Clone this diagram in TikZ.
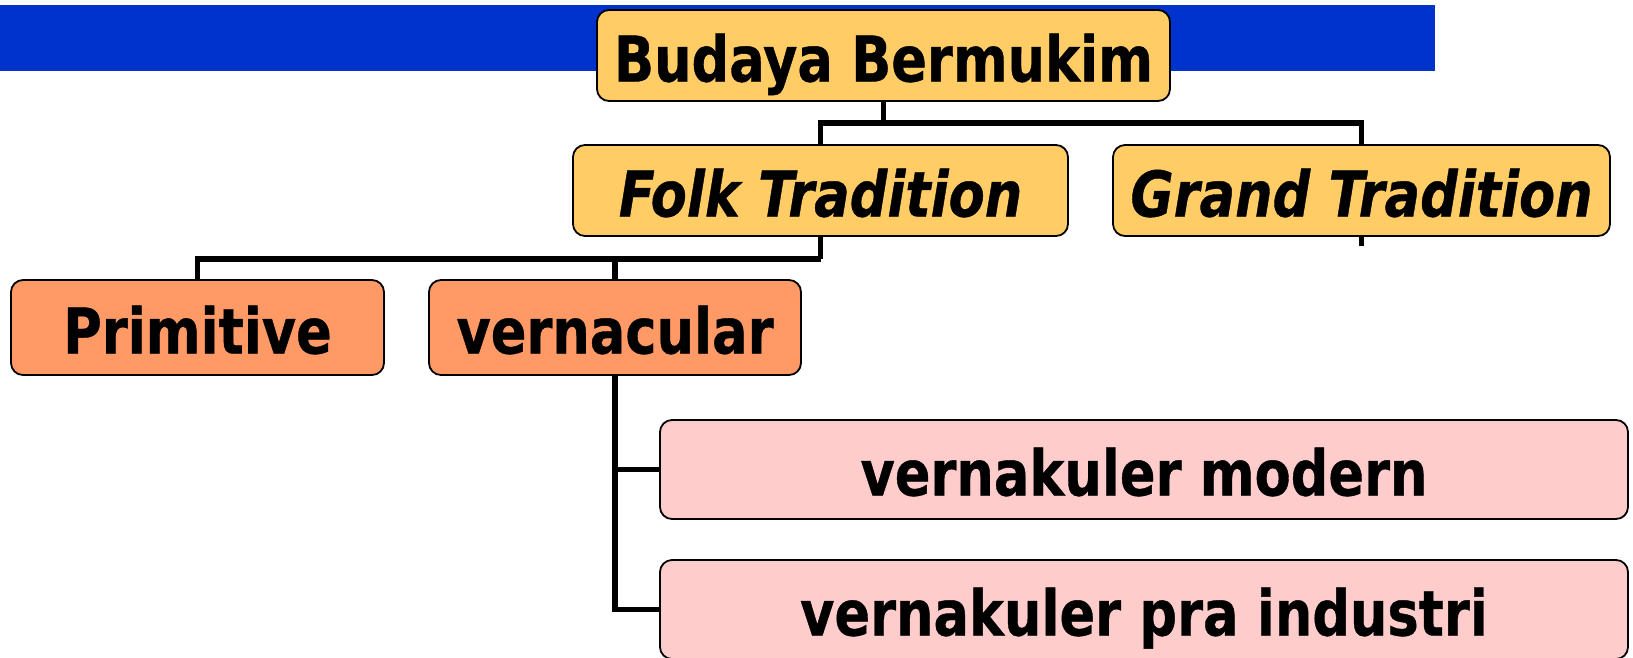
\documentclass[tikz,border=0pt]{standalone}
\usepackage{fontspec}
\setmainfont[FakeStretch=0.835, BoldFeatures={FakeBold=0.6}, BoldItalicFeatures={FakeBold=0.6}]{DejaVu Sans}
\definecolor{barblue}{HTML}{0033CC}
\definecolor{gold}{HTML}{FFCC66}
\definecolor{orangebox}{HTML}{FF9966}
\definecolor{pinkbox}{HTML}{FFCCCC}
\begin{document}
\begin{tikzpicture}[x=1pt,y=-1pt,
  box/.style={draw=black, line width=1.8pt, rounded corners=12pt, inner sep=0pt,
    text height=52pt, text depth=0pt,
    font=\fontsize{63}{70}\selectfont\bfseries},
  lvlone/.style={box, fill=gold},
  lvltwo/.style={box, fill=orangebox},
  lvlthree/.style={box, fill=pinkbox},
  conn/.style={draw=black, line width=5.5pt}]
\useasboundingbox (0,0) rectangle (1633,657);
\clip (0,0) rectangle (1633,657);
\fill[barblue] (0,5) rectangle (1435,71);
\node[lvlone, minimum width=573pt, minimum height=91pt] (bud) at (883.5,55.5) {Budaya Bermukim};
\node[lvlone, minimum width=495pt, minimum height=91pt] (folk) at (820.5,190.5) {\itshape Folk Tradition};
\node[lvlone, minimum width=497pt, minimum height=91pt] (grand) at (1361.5,190.5) {\itshape Grand Tradition};
\node[lvltwo, minimum width=373pt, minimum height=95pt] (prim) at (197.5,327.5) {Primitive};
\node[lvltwo, minimum width=372pt, minimum height=95pt] (vern) at (615,327.5) {vernacular};
\node[lvlthree, minimum width=968pt, minimum height=99pt] (vm) at (1144,469.5) {vernakuler modern};
\node[lvlthree, minimum width=968pt, minimum height=99pt] (vpi) at (1144,609.5) {vernakuler pra industri};
\draw[conn] (bud.south) -- ++(0,21) coordinate (j1);
\draw[conn] (j1) -| (folk.north);
\draw[conn] (j1) -| (grand.north);
\draw[conn] (grand.south) -- ++(0,9) coordinate (gstub);
\draw[conn] (folk.south) -- ++(0,22) coordinate (j2);
\draw[conn] (j2) -| (prim.north);
\draw[conn] (j2) -| (vern.north);
\draw[conn] (vern.south) |- (vm.west);
\draw[conn] (vern.south) |- (vpi.west);
\end{tikzpicture}
\end{document}
